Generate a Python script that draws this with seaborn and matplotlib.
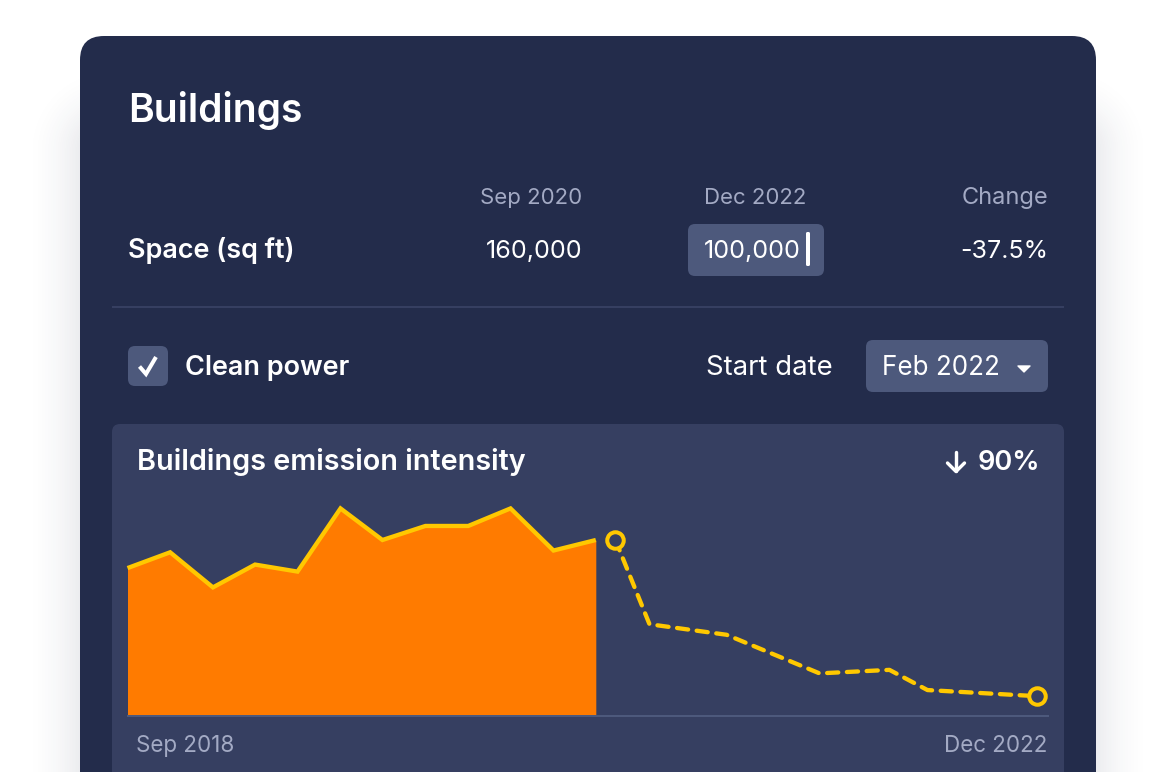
import matplotlib
matplotlib.use("Agg")
import matplotlib.pyplot as plt
from matplotlib.patches import FancyBboxPatch, Polygon
import numpy as np
import seaborn as sns

# ---- data (index, Sep 2018 start; months since Sep 2018) ----
hist_months = [0, 2.39, 4.79, 7.15, 9.53, 11.94, 14.29, 16.7, 19.1, 21.47, 23.88, 26.25]
hist_values = [84, 93, 73, 86, 82, 118, 100, 108, 108, 118, 94, 100]
proj_months = [27.35, 29.26, 33.58, 38.79, 42.71, 44.84, 51]
proj_values = [100, 52, 46, 24, 26, 14.5, 11]
axis_labels = ["Sep 2018", "Dec 2022"]
axis_label_pos = [0.5, 51.55]
table_headers = ["Sep 2020", "Dec 2022", "Change"]
table_values = ["160,000", "100,000", "-37.5%"]

# ---- colours ----
CARD, PANEL, CTRL = "#232C4B", "#363F61", "#4D597C"
ORANGE, YELLOW, MUTED, WHITE = "#FF7B00", "#FFC800", "#A3AAC4", "#FFFFFF"

sns.set_theme(style="white")
plt.rcParams["font.family"] = ["Inter", "DejaVu Sans"]

W, H = 1176, 772
PT = 0.72  # px -> pt at dpi 100
fig = plt.figure(figsize=(W / 100, H / 100), dpi=100, facecolor="white")

bg = fig.add_axes([0, 0, 1, 1], zorder=0)


def rrect(x0, y0, x1, y1, r, color, **kw):
    p = FancyBboxPatch((x0 + r, y0 + r), x1 - x0 - 2 * r, y1 - y0 - 2 * r,
                       boxstyle=f"round,pad={r},rounding_size={r}",
                       fc=color, ec="none", **kw)
    bg.add_patch(p)
    return p


def txt(x, y, s, px, color=WHITE, weight="normal", ha="left"):
    bg.text(x, y, s, fontsize=px * PT, color=color, fontweight=weight, ha=ha, va="baseline")


# soft shadow: fades with distance from a box set inside the card
yy, xx = np.mgrid[0:H, 0:W] + 0.5
dx = np.maximum(np.maximum(110 - xx, xx - 1066), 0)
dy = np.maximum(150 - yy, 0)
dist = np.hypot(dx, dy)
shade = np.zeros((H, W, 4))
shade[..., :3] = (0.14, 0.17, 0.29)
shade[..., 3] = 0.2 * np.clip(1 - dist / 90, 0, 1) ** 2
bg.imshow(shade, extent=(0, W, H, 0), interpolation="bilinear", aspect="auto", zorder=0)
bg.set_xlim(0, W)
bg.set_ylim(H, 0)
bg.axis("off")

# card and panels
rrect(80, 36, 1096, 900, 24, CARD)
rrect(112, 424, 1064, 900, 8, PANEL)
bg.plot([112, 1064], [307, 307], color=PANEL, lw=2 * PT, solid_capstyle="butt")

# header
txt(128, 122, "Buildings", 39, weight="semibold")
txt(582.5, 204, table_headers[0], 22.2, MUTED, ha="right")
txt(806.5, 204, table_headers[1], 22.2, MUTED, ha="right")
txt(1048, 204, table_headers[2], 23.6, MUTED, ha="right")
txt(128.5, 258, "Space (sq ft)", 27, weight="semibold")
txt(582.5, 258, table_values[0], 25.2, ha="right")
rrect(688, 224, 824, 276, 7, CTRL)
txt(704, 258, table_values[1], 25.2)
rrect(806, 232, 810, 266, 1.5, WHITE)
txt(1048, 258, table_values[2], 25, ha="right")

# controls
rrect(128, 346, 168, 386, 7, CTRL)
bg.plot([139.5, 146, 156], [366.5, 374, 357], color=WHITE, lw=4 * PT,
        solid_capstyle="butt", solid_joinstyle="miter")
txt(185, 375, "Clean power", 27, weight="semibold")
txt(706.5, 375, "Start date", 27.5)
rrect(866, 340, 1048, 392, 7, CTRL)
txt(882.5, 375, "Feb 2022", 26)
bg.add_patch(Polygon([[1018, 366], [1030, 366], [1024, 372]], closed=True, fc=WHITE, ec=WHITE, lw=1, joinstyle="round"))

# panel titles
txt(137, 470, "Buildings emission intensity", 28.8, weight="semibold")
bg.plot([956, 956], [452, 471], color=WHITE, lw=3.4 * PT, solid_capstyle="round")
bg.plot([947.5, 956, 964.5], [463, 471.5, 463], color=WHITE, lw=3.4 * PT,
        solid_capstyle="round", solid_joinstyle="round")
txt(1040.5, 470, "90%", 27.2, weight="semibold", ha="right")

# ---- chart ----
LEFT, RIGHT, TOP, BASE = 127.5, 1048, 490, 715.5
ax = fig.add_axes([LEFT / W, 1 - BASE / H, (RIGHT - LEFT) / W, (BASE - TOP) / H], zorder=1)
ax.patch.set_alpha(0)
ax.fill_between(hist_months, hist_values, 0, color=ORANGE, lw=0, zorder=2)
sns.lineplot(x=hist_months, y=hist_values, ax=ax, color=YELLOW, linewidth=4.3 * PT,
             sort=False, errorbar=None, zorder=3, clip_on=False,
             solid_capstyle="butt", solid_joinstyle="miter")
sns.lineplot(x=proj_months, y=proj_values, ax=ax, color=YELLOW, linewidth=4.3 * PT,
             sort=False, errorbar=None, zorder=3, clip_on=False,
             dashes=False, linestyle=(0, (2.6, 2.0)),
             dash_capstyle="round", dash_joinstyle="round")
ax.plot([proj_months[0], proj_months[-1]], [proj_values[0], proj_values[-1]], ls="none",
        marker="o", ms=16.5 * PT, mfc=PANEL, mec=YELLOW, mew=4 * PT, zorder=4, clip_on=False)
ax.set_xlim(0, (RIGHT - LEFT) / 17.84)
ax.set_ylim(0, (BASE - TOP) / 1.755)
ax.set_yticks([])
ax.set_xticks(axis_label_pos)
ax.set_xticklabels(axis_labels, fontsize=22.4 * PT, color=MUTED)
ax.get_xticklabels()[0].set_ha("left")
ax.get_xticklabels()[1].set_ha("right")
ax.tick_params(axis="x", length=0, pad=14.3)
ax.set_xlabel("")
ax.set_ylabel("")
for s in ("top", "left", "right"):
    ax.spines[s].set_visible(False)
ax.spines["bottom"].set_color(CTRL)
ax.spines["bottom"].set_linewidth(2 * PT)

fig.savefig("out.png", dpi=100, facecolor="white")
